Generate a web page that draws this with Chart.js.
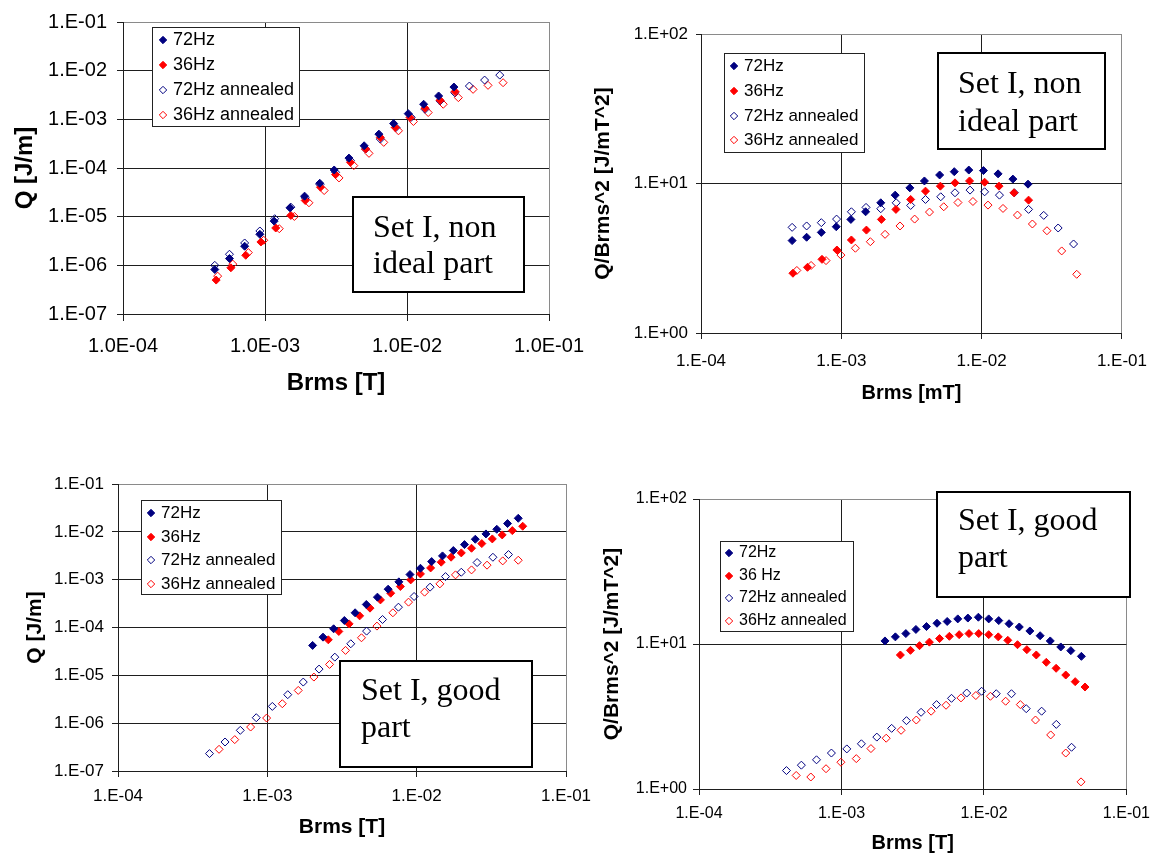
<!DOCTYPE html>
<html lang="en">
<head>
<meta charset="UTF-8">
<title>Set I - Q and Q/Brms^2 vs Brms</title>
<style>
  html, body { margin: 0; padding: 0; background: #fff; }
  .wrap { position: relative; width: 1159px; height: 854px; }
  .wrap canvas { position: absolute; left: 0; top: 0; }
</style>
</head>
<body>
<div class="wrap">
  <canvas id="c1" width="1159" height="854"></canvas>
  <canvas id="c2" width="1159" height="854"></canvas>
  <canvas id="c3" width="1159" height="854"></canvas>
  <canvas id="c4" width="1159" height="854"></canvas>
</div>

<script src="https://cdn.jsdelivr.net/npm/chart.js"></script>
<script>
  // series names
  const names = ['72Hz', '36Hz', '72Hz annealed', '36Hz annealed'];
  const names4 = ['72Hz', '36 Hz', '72Hz annealed', '36Hz annealed'];

  // tick values and labels
  const xTickVals = [1e-4, 1e-3, 1e-2, 1e-1];
  const xTicksLong = ['1.0E-04', '1.0E-03', '1.0E-02', '1.0E-01'];
  const xTicksShort = ['1.E-04', '1.E-03', '1.E-02', '1.E-01'];
  const qTickVals = [1e-7, 1e-6, 1e-5, 1e-4, 1e-3, 1e-2, 1e-1];
  const qTicks = ['1.E-07', '1.E-06', '1.E-05', '1.E-04', '1.E-03', '1.E-02', '1.E-01'];
  const rTickVals = [1, 10, 100];
  const rTicks = ['1.E+00', '1.E+01', '1.E+02'];

  // Set I, non ideal part : Q [J/m]
  const B72_1 = [4.43e-4, 5.62e-4, 7.19e-4, 9.2e-4, 1.16e-3, 1.50e-3, 1.90e-3, 2.43e-3, 3.07e-3, 3.90e-3, 4.99e-3, 6.34e-3, 8.05e-3, 1.02e-2, 1.31e-2, 1.67e-2, 2.14e-2];
  const Q72_1 = [8.2e-7, 1.38e-6, 2.47e-6, 4.34e-6, 8.1e-6, 1.52e-5, 2.64e-5, 4.86e-5, 9.1e-5, 1.60e-4, 2.86e-4, 4.96e-4, 8.2e-4, 1.31e-3, 2.04e-3, 3.02e-3, 4.61e-3];
  const B36_1 = [4.53e-4, 5.75e-4, 7.32e-4, 9.36e-4, 1.19e-3, 1.52e-3, 1.92e-3, 2.46e-3, 3.14e-3, 4.00e-3, 5.11e-3, 6.49e-3, 8.26e-3, 1.05e-2, 1.34e-2, 1.71e-2, 2.18e-2];
  const Q36_1 = [4.98e-7, 8.9e-7, 1.61e-6, 3.02e-6, 5.85e-6, 1.06e-5, 2.15e-5, 4.03e-5, 7.31e-5, 1.31e-4, 2.45e-4, 4.25e-4, 6.8e-4, 1.09e-3, 1.69e-3, 2.46e-3, 3.71e-3];
  const B72a_1 = [4.43e-4, 5.62e-4, 7.19e-4, 9.2e-4, 1.17e-3, 1.52e-3, 1.92e-3, 2.44e-3, 3.14e-3, 4.0e-3, 5.11e-3, 6.49e-3, 8.36e-3, 1.07e-2, 1.34e-2, 1.71e-2, 2.17e-2, 2.75e-2, 3.52e-2, 4.50e-2];
  const Q72a_1 = [1.0e-6, 1.69e-6, 2.88e-6, 5.08e-6, 9.08e-6, 1.57e-5, 2.44e-5, 4.57e-5, 8.17e-5, 1.42e-4, 2.45e-4, 3.93e-4, 6.8e-4, 1.1e-3, 1.61e-3, 2.39e-3, 3.53e-3, 4.83e-3, 6.41e-3, 8.11e-3];
  const B36a_1 = [4.64e-4, 5.93e-4, 7.63e-4, 9.8e-4, 1.26e-3, 1.61e-3, 2.04e-3, 2.61e-3, 3.32e-3, 4.22e-3, 5.40e-3, 6.86e-3, 8.71e-3, 1.11e-2, 1.41e-2, 1.80e-2, 2.30e-2, 2.92e-2, 3.72e-2, 4.75e-2];
  const Q36a_1 = [6.0e-7, 1.06e-6, 1.83e-6, 3.27e-6, 5.66e-6, 1.01e-5, 1.93e-5, 3.44e-5, 6.25e-5, 1.12e-4, 2.0e-4, 3.36e-4, 5.81e-4, 9.02e-4, 1.38e-3, 2.04e-3, 2.79e-3, 4.13e-3, 4.99e-3, 5.66e-3];

  // Set I, non ideal part : Q/Brms^2
  const B72_2 = [4.46e-4, 5.66e-4, 7.2e-4, 9.2e-4, 1.17e-3, 1.49e-3, 1.91e-3, 2.42e-3, 3.08e-3, 3.91e-3, 5.02e-3, 6.38e-3, 8.1e-3, 1.03e-2, 1.31e-2, 1.67e-2, 2.14e-2];
  const R72_2 = [4.15, 4.37, 4.71, 5.14, 5.75, 6.47, 7.43, 8.36, 9.35, 10.4, 11.4, 12.0, 12.3, 12.2, 11.6, 10.7, 9.9];
  const B36_2 = [4.52e-4, 5.74e-4, 7.28e-4, 9.3e-4, 1.18e-3, 1.51e-3, 1.93e-3, 2.45e-3, 3.12e-3, 3.98e-3, 5.08e-3, 6.46e-3, 8.2e-3, 1.05e-2, 1.33e-2, 1.70e-2, 2.16e-2];
  const R36_2 = [2.51, 2.75, 3.11, 3.59, 4.19, 4.88, 5.75, 6.71, 7.82, 8.89, 9.6, 10.1, 10.4, 10.2, 9.6, 8.67, 7.74];
  const B72a_2 = [4.46e-4, 5.66e-4, 7.2e-4, 9.25e-4, 1.18e-3, 1.50e-3, 1.91e-3, 2.46e-3, 3.12e-3, 3.98e-3, 5.11e-3, 6.46e-3, 8.27e-3, 1.05e-2, 1.34e-2, 1.71e-2, 2.16e-2, 2.77e-2, 3.51e-2, 4.52e-2];
  const R72a_2 = [5.09, 5.20, 5.47, 5.78, 6.47, 6.92, 6.78, 7.43, 7.13, 7.82, 8.15, 8.67, 9.03, 8.80, 8.36, 8.67, 6.71, 6.12, 5.04, 3.94];
  const B36a_2 = [4.82e-4, 6.09e-4, 7.78e-4, 9.94e-4, 1.26e-3, 1.61e-3, 2.05e-3, 2.62e-3, 3.33e-3, 4.25e-3, 5.37e-3, 6.78e-3, 8.67e-3, 1.11e-2, 1.42e-2, 1.80e-2, 2.30e-2, 2.92e-2, 3.72e-2, 4.76e-2];
  const R36a_2 = [2.62, 2.83, 3.05, 3.32, 3.69, 4.08, 4.57, 5.20, 5.78, 6.44, 6.99, 7.46, 7.58, 7.17, 6.81, 6.15, 5.36, 4.83, 3.54, 2.47];

  // Set I, good part : Q [J/m]
  const B72_3 = [2.01e-3, 2.36e-3, 2.78e-3, 3.28e-3, 3.87e-3, 4.60e-3, 5.46e-3, 6.44e-3, 7.60e-3, 9.02e-3, 1.06e-2, 1.26e-2, 1.49e-2, 1.76e-2, 2.09e-2, 2.47e-2, 2.91e-2, 3.44e-2, 4.06e-2, 4.79e-2];
  const Q72_3 = [4.22e-5, 6.29e-5, 9.4e-5, 1.40e-4, 2.03e-4, 3.03e-4, 4.31e-4, 6.32e-4, 9.0e-4, 1.28e-3, 1.73e-3, 2.39e-3, 3.14e-3, 4.06e-3, 5.41e-3, 7.0e-3, 9.04e-3, 1.13e-2, 1.49e-2, 1.92e-2];
  const B36_3 = [2.56e-3, 3.01e-3, 3.53e-3, 4.15e-3, 4.87e-3, 5.72e-3, 6.70e-3, 7.78e-3, 9.12e-3, 1.06e-2, 1.24e-2, 1.46e-2, 1.70e-2, 1.99e-2, 2.33e-2, 2.73e-2, 3.21e-2, 3.74e-2, 4.37e-2, 5.13e-2];
  const Q36_3 = [5.53e-5, 8.26e-5, 1.19e-4, 1.75e-4, 2.54e-4, 3.78e-4, 5.21e-4, 7.19e-4, 9.9e-4, 1.32e-3, 1.76e-3, 2.32e-3, 2.95e-3, 3.63e-3, 4.54e-3, 5.68e-3, 7.11e-3, 8.62e-3, 1.06e-2, 1.31e-2];
  const B72a_3 = [4.10e-4, 5.21e-4, 6.59e-4, 8.43e-4, 1.08e-3, 1.37e-3, 1.74e-3, 2.22e-3, 2.83e-3, 3.62e-3, 4.62e-3, 5.91e-3, 7.55e-3, 9.61e-3, 1.23e-2, 1.56e-2, 1.99e-2, 2.54e-2, 3.24e-2, 4.12e-2];
  const Q72a_3 = [2.31e-7, 4.04e-7, 7.08e-7, 1.30e-6, 2.24e-6, 3.94e-6, 7.23e-6, 1.35e-5, 2.40e-5, 4.57e-5, 8.4e-5, 1.47e-4, 2.66e-4, 4.45e-4, 6.97e-4, 1.16e-3, 1.43e-3, 2.28e-3, 2.94e-3, 3.35e-3];
  const B36a_3 = [4.75e-4, 6.05e-4, 7.73e-4, 9.89e-4, 1.26e-3, 1.61e-3, 2.05e-3, 2.61e-3, 3.34e-3, 4.27e-3, 5.42e-3, 6.93e-3, 8.82e-3, 1.13e-2, 1.43e-2, 1.82e-2, 2.33e-2, 2.96e-2, 3.77e-2, 4.79e-2];
  const Q36a_3 = [2.84e-7, 4.53e-7, 8.3e-7, 1.28e-6, 2.55e-6, 4.84e-6, 9.2e-6, 1.69e-5, 3.32e-5, 6.1e-5, 1.07e-4, 2.03e-4, 3.39e-4, 5.48e-4, 8.17e-4, 1.26e-3, 1.60e-3, 2.01e-3, 2.47e-3, 2.55e-3];

  // Set I, good part : Q/Brms^2
  const B72_4 = [2.02e-3, 2.39e-3, 2.83e-3, 3.33e-3, 3.95e-3, 4.68e-3, 5.52e-3, 6.55e-3, 7.71e-3, 9.14e-3, 1.08e-2, 1.27e-2, 1.50e-2, 1.77e-2, 2.10e-2, 2.48e-2, 2.92e-2, 3.46e-2, 4.07e-2, 4.83e-2];
  const R72_4 = [10.5, 11.2, 11.8, 12.6, 13.2, 13.9, 14.3, 14.9, 15.1, 15.3, 14.9, 14.5, 13.8, 13.1, 12.3, 11.4, 10.5, 9.54, 9.0, 8.22];
  const B36_4 = [2.59e-3, 3.05e-3, 3.53e-3, 4.14e-3, 4.88e-3, 5.72e-3, 6.70e-3, 7.85e-3, 9.19e-3, 1.08e-2, 1.26e-2, 1.47e-2, 1.72e-2, 2.00e-2, 2.33e-2, 2.74e-2, 3.21e-2, 3.75e-2, 4.37e-2, 5.12e-2];
  const R36_4 = [8.40, 9.04, 9.74, 10.3, 10.9, 11.3, 11.6, 11.8, 11.8, 11.6, 11.2, 10.6, 9.89, 9.14, 8.40, 7.48, 6.80, 6.11, 5.50, 5.05];
  const B72a_4 = [4.11e-4, 5.23e-4, 6.68e-4, 8.50e-4, 1.09e-3, 1.38e-3, 1.77e-3, 2.25e-3, 2.86e-3, 3.62e-3, 4.65e-3, 5.92e-3, 7.57e-3, 9.63e-3, 1.22e-2, 1.56e-2, 1.98e-2, 2.54e-2, 3.22e-2, 4.12e-2];
  const R72a_4 = [1.34, 1.46, 1.59, 1.77, 1.89, 2.05, 2.28, 2.62, 2.96, 3.38, 3.82, 4.22, 4.59, 4.72, 4.54, 4.54, 3.58, 3.44, 2.79, 1.94];
  const B36a_4 = [4.81e-4, 6.09e-4, 7.79e-4, 9.91e-4, 1.27e-3, 1.61e-3, 2.06e-3, 2.62e-3, 3.35e-3, 4.26e-3, 5.42e-3, 6.90e-3, 8.77e-3, 1.11e-2, 1.42e-2, 1.80e-2, 2.30e-2, 2.94e-2, 3.75e-2, 4.80e-2];
  const R36a_4 = [1.24, 1.21, 1.38, 1.53, 1.62, 1.90, 2.24, 2.54, 2.99, 3.44, 3.78, 4.25, 4.41, 4.36, 4.03, 3.82, 2.99, 2.36, 1.77, 1.12];

  const SANS = '"Liberation Sans", Arial, sans-serif';
  const SERIF = '"Liberation Serif", "Times New Roman", serif';
  const colors = ['#000080', '#ff0000', '#000080', '#ff0000'];

  function makeSets(labels, xs, ys) {
    return labels.map((lbl, k) => ({
      label: lbl,
      data: xs[k].map((x, i) => ({ x: x, y: ys[k][i] })),
      showLine: false,
      pointStyle: 'rectRot',
      pointRadius: 4,
      pointHoverRadius: 4,
      borderWidth: 1,
      borderColor: colors[k],
      backgroundColor: k < 2 ? colors[k] : 'rgba(255,255,255,0)'
    }));
  }

  function logAxis(vals, labels, o) {
    const left = o.pos === 'left';
    return {
      type: 'logarithmic',
      position: o.pos,
      min: vals[0],
      max: vals[vals.length - 1],
      afterBuildTicks: s => { s.ticks = vals.map(v => ({ value: v })); },
      afterFit: s => { if (left) s.width = o.size; else s.height = o.size; },
      ticks: {
        autoSkip: false, maxRotation: 0, padding: o.pad, color: '#000',
        font: { family: SANS, size: o.font },
        callback: (v, i) => labels[i]
      },
      grid: {
        color: c => c.index === vals.length - 1 ? '#8a8a8a' : '#1e1e1e',
        tickColor: '#1e1e1e', tickLength: o.tl, lineWidth: 1
      },
      border: { color: '#1e1e1e' },
      title: {
        display: true, text: o.title, color: '#000',
        font: { family: SANS, size: o.tsize, weight: 'bold', lineHeight: 1 },
        padding: left ? { top: o.tpad, bottom: 0 } : { top: 0, bottom: o.tpad }
      }
    };
  }

  function diamond(ctx, x, y, r, fill, stroke) {
    ctx.beginPath();
    ctx.moveTo(x, y - r);
    ctx.lineTo(x + r, y);
    ctx.lineTo(x, y + r);
    ctx.lineTo(x - r, y);
    ctx.closePath();
    ctx.fillStyle = fill;
    ctx.fill();
    ctx.lineWidth = 1;
    ctx.strokeStyle = stroke;
    ctx.stroke();
  }

  // legend box and "Set I" text box
  const boxPlugin = {
    id: 'boxes',
    afterDraw(chart, args, opts) {
      const ctx = chart.ctx;
      ctx.save();
      const L = opts.legend;
      ctx.fillStyle = '#fff';
      ctx.fillRect(L.x, L.y, L.w, L.h);
      ctx.strokeStyle = '#222';
      ctx.lineWidth = 1;
      ctx.strokeRect(L.x + 0.5, L.y + 0.5, L.w, L.h);
      ctx.font = L.font + 'px ' + SANS;
      ctx.textBaseline = 'middle';
      ctx.textAlign = 'left';
      chart.data.datasets.forEach((ds, k) => {
        diamond(ctx, L.mx, L.rows[k], 3.7, ds.backgroundColor, ds.borderColor);
        ctx.fillStyle = '#000';
        ctx.fillText(ds.label, L.tx, L.rows[k]);
      });

      const N = opts.note;
      ctx.fillStyle = '#fff';
      ctx.fillRect(N.x, N.y, N.w, N.h);
      ctx.strokeStyle = '#000';
      ctx.lineWidth = 2;
      ctx.strokeRect(N.x, N.y, N.w, N.h);
      ctx.font = N.font + 'px ' + SERIF;
      ctx.textBaseline = 'alphabetic';
      ctx.fillStyle = '#000';
      N.lines.forEach((t, i) => ctx.fillText(t, N.tx, N.base[i]));
      ctx.restore();
    }
  };

  function panel(id, sets, pad, xAxis, yAxis, boxes) {
    new Chart(document.getElementById(id), {
      type: 'scatter',
      data: { datasets: sets },
      options: {
        responsive: false,
        animation: false,
        events: [],
        layout: { padding: pad },
        scales: { x: xAxis, y: yAxis },
        plugins: { legend: { display: false }, tooltip: { enabled: false }, boxes: boxes }
      },
      plugins: [boxPlugin]
    });
  }

  // top left
  panel('c1',
    makeSets(names, [B72_1, B36_1, B72a_1, B36a_1], [Q72_1, Q36_1, Q72a_1, Q36a_1]),
    { left: 0, top: 21, right: 610, bottom: 434 },
    logAxis(xTickVals, xTicksLong, { pos: 'bottom', size: 106, tl: 7, pad: 13, font: 20, title: 'Brms [T]', tsize: 24, tpad: 25 }),
    logAxis(qTickVals, qTicks, { pos: 'left', size: 123, tl: 6, pad: 10, font: 20, title: 'Q [J/m]', tsize: 24, tpad: 13 }),
    {
      legend: { x: 152, y: 27, w: 147, h: 99, mx: 163, tx: 173, rows: [40, 65, 90, 115], font: 18 },
      note: { x: 353, y: 197, w: 171, h: 95, tx: 373, base: [237, 273], font: 32, lines: ['Set I, non', 'ideal part'] }
    });

  // top right
  panel('c2',
    makeSets(names, [B72_2, B36_2, B72a_2, B36a_2], [R72_2, R36_2, R72a_2, R36a_2]),
    { left: 580, top: 34, right: 32, bottom: 434 },
    logAxis(xTickVals, xTicksShort, { pos: 'bottom', size: 87, tl: 6, pad: 12, font: 17, title: 'Brms [mT]', tsize: 20, tpad: 17 }),
    logAxis(rTickVals, rTicks, { pos: 'left', size: 121, tl: 5, pad: 8, font: 17, title: 'Q/Brms^2 [J/mT^2]', tsize: 21, tpad: 13 }),
    {
      legend: { x: 724, y: 53, w: 140, h: 99, mx: 734, tx: 744, rows: [66, 91, 116, 140], font: 17 },
      note: { x: 938, y: 53, w: 167, h: 96, tx: 958, base: [93, 131], font: 32, lines: ['Set I, non', 'ideal part'] }
    });

  // bottom left
  panel('c3',
    makeSets(names, [B72_3, B36_3, B72a_3, B36a_3], [Q72_3, Q36_3, Q72a_3, Q36a_3]),
    { left: 0, top: 484, right: 593, bottom: 0 },
    logAxis(xTickVals, xTicksShort, { pos: 'bottom', size: 83, tl: 6, pad: 9, font: 17, title: 'Brms [T]', tsize: 21, tpad: 16 }),
    logAxis(qTickVals, qTicks, { pos: 'left', size: 118, tl: 6, pad: 8, font: 17, title: 'Q [J/m]', tsize: 21, tpad: 25 }),
    {
      legend: { x: 141, y: 500, w: 140, h: 94, mx: 151, tx: 161, rows: [513, 537, 560, 584], font: 17 },
      note: { x: 340, y: 661, w: 192, h: 106, tx: 361, base: [700, 737], font: 32, lines: ['Set I, good', 'part'] }
    });

  // bottom right
  panel('c4',
    makeSets(names4, [B72_4, B36_4, B72a_4, B36a_4], [R72_4, R36_4, R72a_4, R36a_4]),
    { left: 580, top: 499, right: 26, bottom: 0 },
    logAxis(xTickVals, xTicksShort, { pos: 'bottom', size: 65, tl: 6, pad: 9, font: 16, title: 'Brms [T]', tsize: 20, tpad: 1 }),
    logAxis(rTickVals, rTicks, { pos: 'left', size: 119, tl: 6, pad: 6, font: 16, title: 'Q/Brms^2 [J/mT^2]', tsize: 21, tpad: 22 }),
    {
      legend: { x: 720, y: 541, w: 133, h: 90, mx: 729, tx: 739, rows: [553, 576, 598, 621], font: 16 },
      note: { x: 937, y: 492, w: 193, h: 105, tx: 958, base: [530, 567], font: 32, lines: ['Set I, good', 'part'] }
    });
</script>
</body>
</html>
